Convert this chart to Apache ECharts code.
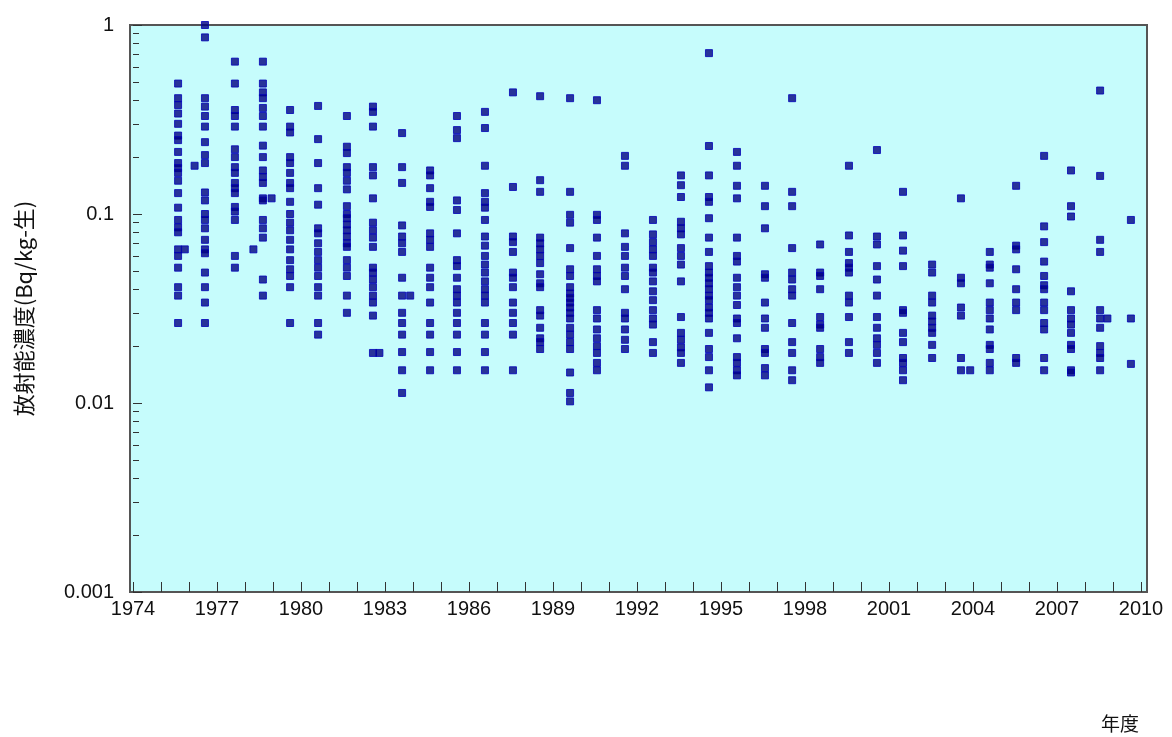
<!DOCTYPE html>
<html>
<head>
<meta charset="utf-8">
<script src="https://cdn.jsdelivr.net/npm/echarts@6/dist/echarts.min.js"></script>
<style>
  html, body { margin: 0; padding: 0; background: #fff; }
  #chart { width: 1172px; height: 737px; }
</style>
</head>
<body>
<div id="chart"></div>
<script>
// 年度ごとの測定位置（横軸の値）
var colYears = [1975.61, 1976.57, 1977.64, 1978.64, 1979.61, 1980.61, 1981.64, 1982.57, 1983.61, 1984.61,
                1985.57, 1986.57, 1987.57, 1988.54, 1989.61, 1990.57, 1991.57, 1992.57, 1993.57, 1994.57,
                1995.57, 1996.57, 1997.54, 1998.54, 1999.57, 2000.57, 2001.5, 2002.54, 2003.57, 2004.6,
                2005.54, 2006.54, 2007.5, 2008.54, 2009.64];

// 放射能濃度 (Bq/kg-生)
var colValues = [
    [0.49,0.41,0.377,0.34,0.30,0.26,0.246,0.213,0.186,0.175,0.165,0.15,0.129,0.108,0.093,0.085,0.08,0.065,0.06,0.052,0.041,0.037,0.0265],
    [1.0,0.86,0.41,0.37,0.33,0.29,0.24,0.205,0.186,0.13,0.118,0.10,0.093,0.084,0.073,0.065,0.062,0.049,0.041,0.034,0.0265],
    [0.64,0.49,0.355,0.33,0.29,0.22,0.2,0.177,0.165,0.146,0.137,0.129,0.109,0.103,0.093,0.06,0.052],
    [0.64,0.49,0.44,0.41,0.364,0.33,0.29,0.23,0.2,0.17,0.157,0.146,0.121,0.118,0.093,0.084,0.075,0.045,0.037],
    [0.355,0.29,0.27,0.2,0.186,0.165,0.146,0.137,0.116,0.10,0.09,0.082,0.073,0.065,0.057,0.051,0.047,0.041,0.0265],
    [0.373,0.249,0.186,0.137,0.112,0.084,0.079,0.07,0.063,0.057,0.052,0.047,0.041,0.037,0.0265,0.023],
    [0.33,0.227,0.21,0.177,0.165,0.15,0.135,0.11,0.1,0.095,0.088,0.082,0.076,0.07,0.067,0.057,0.052,0.047,0.037,0.03],
    [0.37,0.347,0.29,0.177,0.16,0.121,0.09,0.082,0.075,0.067,0.052,0.049,0.045,0.041,0.037,0.034,0.029,0.0184],
    [0.268,0.177,0.146,0.087,0.076,0.07,0.063,0.046,0.037,0.03,0.0265,0.023,0.0186,0.0149,0.0113],
    [0.17,0.16,0.137,0.116,0.109,0.079,0.073,0.067,0.052,0.046,0.041,0.034,0.0265,0.023,0.0186,0.0149],
    [0.33,0.278,0.252,0.118,0.105,0.079,0.057,0.053,0.046,0.04,0.037,0.034,0.03,0.0265,0.023,0.0186,0.0149],
    [0.347,0.285,0.18,0.129,0.116,0.108,0.093,0.076,0.068,0.06,0.054,0.049,0.044,0.04,0.037,0.034,0.0265,0.023,0.0186,0.0149],
    [0.44,0.139,0.076,0.071,0.063,0.049,0.046,0.041,0.034,0.03,0.0265,0.023,0.0149],
    [0.42,0.151,0.131,0.075,0.07,0.065,0.06,0.055,0.048,0.043,0.041,0.031,0.029,0.025,0.022,0.021,0.0193],
    [0.41,0.131,0.099,0.09,0.066,0.051,0.047,0.041,0.038,0.036,0.034,0.032,0.03,0.028,0.025,0.023,0.021,0.0193,0.0145,0.0113,0.0102],
    [0.40,0.099,0.093,0.075,0.06,0.051,0.047,0.044,0.031,0.028,0.0245,0.022,0.02,0.0184,0.0163,0.0149],
    [0.203,0.18,0.079,0.067,0.06,0.052,0.047,0.04,0.03,0.028,0.0245,0.0216,0.0193],
    [0.093,0.078,0.071,0.065,0.06,0.052,0.049,0.044,0.039,0.035,0.031,0.028,0.026,0.021,0.0184],
    [0.16,0.142,0.123,0.091,0.084,0.078,0.066,0.06,0.054,0.044,0.0285,0.0235,0.0216,0.0197,0.0184,0.0163],
    [0.71,0.229,0.16,0.123,0.116,0.095,0.075,0.063,0.053,0.049,0.046,0.043,0.04,0.037,0.035,0.032,0.03,0.028,0.0235,0.0193,0.0175,0.0149,0.0121],
    [0.213,0.18,0.141,0.121,0.075,0.06,0.056,0.046,0.041,0.037,0.033,0.028,0.0265,0.022,0.0175,0.0163,0.0149,0.014],
    [0.141,0.11,0.084,0.048,0.046,0.034,0.028,0.025,0.0193,0.0184,0.0153,0.014],
    [0.41,0.131,0.11,0.066,0.049,0.045,0.04,0.037,0.0265,0.021,0.0184,0.0149,0.0132],
    [0.069,0.049,0.047,0.04,0.0285,0.026,0.025,0.0193,0.0175,0.0163],
    [0.18,0.077,0.063,0.055,0.052,0.049,0.037,0.034,0.0285,0.021,0.0184],
    [0.218,0.076,0.069,0.053,0.045,0.037,0.0285,0.025,0.022,0.0203,0.0184,0.0163],
    [0.131,0.077,0.064,0.053,0.031,0.03,0.0235,0.021,0.0173,0.0163,0.0149,0.0132],
    [0.054,0.049,0.037,0.034,0.029,0.027,0.025,0.0235,0.0203,0.0173],
    [0.121,0.046,0.043,0.032,0.029,0.0173,0.0149],
    [0.063,0.054,0.052,0.043,0.034,0.031,0.028,0.0245,0.0203,0.0193,0.0163,0.0149],
    [0.141,0.068,0.065,0.051,0.04,0.034,0.031,0.0173,0.0163],
    [0.203,0.086,0.071,0.056,0.047,0.042,0.04,0.034,0.031,0.0265,0.0245,0.0173,0.0149],
    [0.17,0.11,0.097,0.039,0.031,0.028,0.026,0.0235,0.0203,0.0193,0.0149,0.0145],
    [0.45,0.159,0.073,0.063,0.031,0.028,0.025,0.02,0.0184,0.0173,0.0149],
    [0.093,0.028,0.0161]
];

// 列から少し外れた点
var extraPoints = [
    [1975.85, 0.065], [1976.2, 0.18], [1978.3, 0.065], [1978.95, 0.121],
    [1982.8, 0.0184], [1983.9, 0.037], [2003.9, 0.0149], [2008.8, 0.028]
];

var xLabelYears = [1974, 1977, 1980, 1983, 1986, 1989, 1992, 1995, 1998, 2001, 2004, 2007, 2010];
var yMinorSteps = [2, 3, 4, 5, 6, 7, 8, 9];

var points = [];
colYears.forEach(function (yr, i) {
    colValues[i].forEach(function (v) { points.push([yr, v]); });
});
extraPoints.forEach(function (p) { points.push(p); });

// 補助目盛（対数の 2〜9）
var minorTicks = [];
[-3, -2, -1].forEach(function (d) {
    yMinorSteps.forEach(function (k) { minorTicks.push(d + Math.log10(k)); });
});

var chart = echarts.init(document.getElementById('chart'));
var labelFont = { fontFamily: 'Liberation Sans, Arial, sans-serif', fontSize: 20, color: '#111' };
var jpFont = { fontFamily: 'Noto Sans CJK JP', fontSize: 19, fontWeight: 'normal', color: '#111' };

chart.setOption({
    animation: false,
    title: { text: '年度', left: 1096, top: 709, textStyle: jpFont },
    graphic: [{
        type: 'rect', z: -5, silent: true,
        shape: { x: 130, y: 25, width: 1017, height: 567 },
        style: { fill: '#c6fcfc', stroke: '#555', lineWidth: 2 }
    }],
    grid: { left: 133, right: 31, top: 25, bottom: 145 },
    xAxis: {
        type: 'value', min: 1974, max: 2010, interval: 1,
        splitLine: { show: false },
        axisLine: { show: false, onZero: false },
        axisTick: { show: true, inside: true, length: 10, lineStyle: { color: '#333' } },
        axisLabel: Object.assign({
            margin: 7,
            formatter: function (v) {
                return xLabelYears.indexOf(v) >= 0 ? String(v) : '';
            }
        }, labelFont)
    },
    yAxis: [{
        type: 'log', logBase: 10, min: 0.001, max: 1,
        name: '放射能濃度(Bq/kg-生)',
        nameLocation: 'middle', nameGap: 98, nameRotate: 90,
        nameTextStyle: Object.assign({}, jpFont, { fontSize: 22 }),
        splitLine: { show: false },
        axisLine: { show: false, onZero: false },
        axisTick: { show: true, inside: true, length: 9, lineStyle: { color: '#333' } },
        axisLabel: Object.assign({
            margin: 19,
            formatter: function (v) { return String(+v.toPrecision(3)); }
        }, labelFont)
    }, {
        type: 'value', min: -3, max: 0, position: 'left',
        axisLine: { show: false, onZero: false },
        splitLine: { show: false },
        axisLabel: { show: false },
        axisTick: { show: true, inside: true, length: 6, customValues: minorTicks, lineStyle: { color: '#333' } }
    }],
    series: [{
        type: 'scatter',
        yAxisIndex: 0,
        symbol: 'rect',
        symbolSize: 7,
        itemStyle: { color: '#000080', borderColor: '#0000b8', borderWidth: 1 },
        data: points
    }]
});
</script>
</body>
</html>
